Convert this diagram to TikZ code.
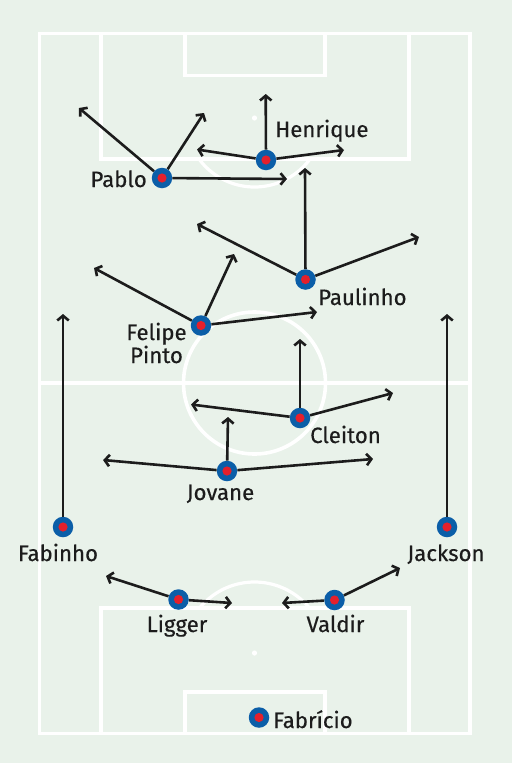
\documentclass[tikz,border=0pt]{standalone}
\usepackage{fontspec}
\setmainfont{Fira Sans}[FakeBold=0.35]
\usetikzlibrary{arrows.meta}
\definecolor{bg}{HTML}{E9F2EA}
\definecolor{dotblue}{HTML}{0B5EA8}
\definecolor{dotred}{HTML}{E4202C}
\definecolor{ink}{HTML}{1C1C1C}
\tikzset{
  fieldline/.style={draw=white, line width=3.6pt},
  player/.style={circle, fill=dotblue, minimum size=20.5pt, inner sep=0pt,
    path picture={\fill[dotred] (path picture bounding box.center) circle (4.6pt);}},
  lbl/.style={text=ink, inner sep=0pt, font=\fontsize{22.2}{23}\selectfont},
  arr/.style={draw=ink, line width=2.6pt, -{Straight Barb[length=4.8pt,width=11.5pt]}},
}
\begin{document}
\begin{tikzpicture}[x=1pt,y=-1pt]
\fill[bg] (0,0) rectangle (512,763);
\useasboundingbox (0,0) rectangle (512,763);
% field
\draw[fieldline] (39.5,33.5) rectangle (470,733.5);
\draw[fieldline] (39.5,383) -- (470,383);
\draw[fieldline] (254.5,383) circle[radius=71pt];
\draw[fieldline] (101,33.5) rectangle (409,159);
\draw[fieldline] (185,33.5) rectangle (325,75.5);
\draw[fieldline] (101,608) rectangle (409,733.5);
\draw[fieldline] (185,692) rectangle (325,733.5);
\fill[white] (254.5,118) circle (2.6pt);
\fill[white] (254.5,653) circle (2.6pt);
\begin{scope}
\clip (0,159) rectangle (512,260);
\draw[fieldline, line width=3.2pt] (254.5,118) circle[radius=69pt];
\end{scope}
\begin{scope}
\clip (0,520) rectangle (512,608);
\draw[fieldline, line width=3.2pt] (254.5,653) circle[radius=71pt];
\end{scope}
% players
\node[player] (henrique) at (266,160) {};
\node[player] (pablo) at (162,178) {};
\node[player] (paulinho) at (305.5,279.5) {};
\node[player] (felipe) at (201,325.5) {};
\node[player] (cleiton) at (300,418) {};
\node[player] (jovane) at (227,471) {};
\node[player] (fabinho) at (63,527) {};
\node[player] (jackson) at (447,527) {};
\node[player] (ligger) at (178.5,599.5) {};
\node[player] (valdir) at (334.5,600) {};
\node[player] (fabricio) at (259,717.5) {};
% arrow ends
\coordinate (pabloA) at (79,108);
\coordinate (pabloB) at (204,113);
\coordinate (pabloC) at (287,179);
\coordinate (henA) at (265.7,94);
\coordinate (henB) at (197,149.5);
\coordinate (henC) at (344,150);
\coordinate (pauA) at (305,168);
\coordinate (pauB) at (419,237);
\coordinate (pauC) at (197,224);
\coordinate (felA) at (94,268);
\coordinate (felB) at (234,254);
\coordinate (felC) at (317,312);
\coordinate (fabA) at (63,314);
\coordinate (jacA) at (447,314);
\coordinate (cleA) at (300,339);
\coordinate (cleB) at (191,404.5);
\coordinate (cleC) at (393,393);
\coordinate (jovA) at (228,417);
\coordinate (jovB) at (103,460);
\coordinate (jovC) at (373,459);
\coordinate (ligA) at (106,576);
\coordinate (ligB) at (232,603);
\coordinate (valA) at (282,603);
\coordinate (valB) at (400,568);
% arrows
\foreach \p/\t in {pablo/pabloA, pablo/pabloB, pablo/pabloC,
  henrique/henA, henrique/henB, henrique/henC,
  paulinho/pauA, paulinho/pauB, paulinho/pauC,
  felipe/felA, felipe/felB, felipe/felC,
  fabinho/fabA, jackson/jacA,
  cleiton/cleA, cleiton/cleB, cleiton/cleC,
  jovane/jovA, jovane/jovB, jovane/jovC,
  ligger/ligA, ligger/ligB, valdir/valA, valdir/valB}
  \draw[arr] (\p) -- (\t);
% labels
\node[lbl, anchor=base west] (lhen) at (275,137) {Henrique};
\node[lbl, anchor=base east] (lpab) at (147,187) {Pablo};
\node[lbl, anchor=base west] (lpau) at (318,305) {Paulinho};
\node[lbl, anchor=base, align=center] (lfel) at (156.5,363) {Felipe\\Pinto};
\node[lbl, anchor=base west] (lcle) at (310,443) {Cleiton};
\node[lbl, anchor=base] (ljov) at (220.5,500) {Jovane};
\node[lbl, anchor=base] (lfab) at (58,561) {Fabinho};
\node[lbl, anchor=base] (ljac) at (446,561) {Jackson};
\node[lbl, anchor=base] (llig) at (177,632) {Ligger};
\node[lbl, anchor=base] (lval) at (335.5,632) {Valdir};
\node[lbl, anchor=base west] (lfbr) at (273,728) {Fabrício};
\end{tikzpicture}
\end{document}
